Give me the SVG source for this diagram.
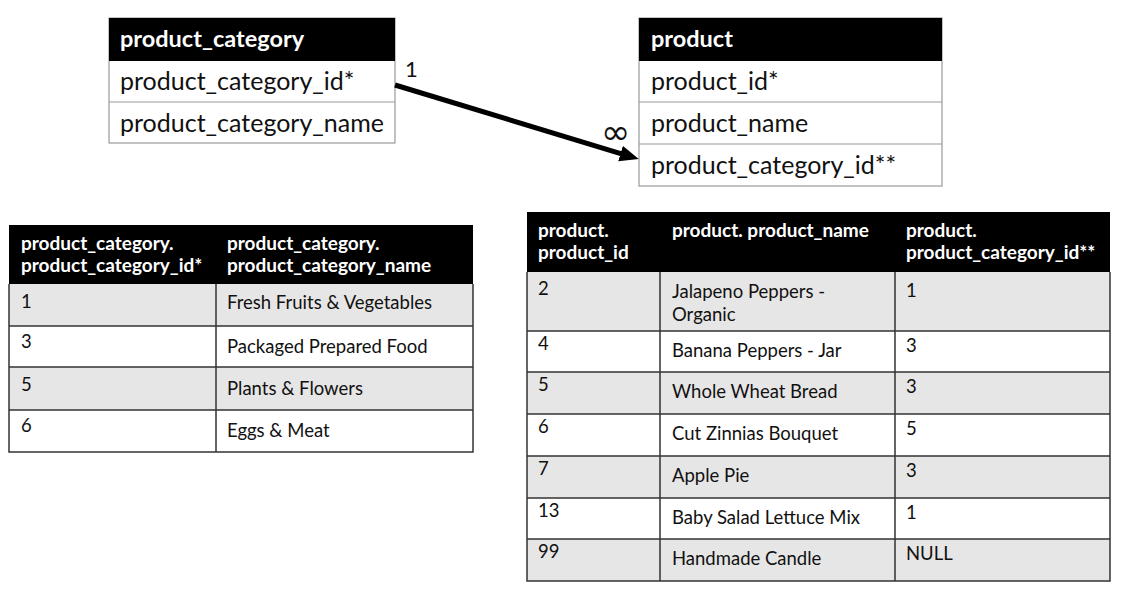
<svg xmlns="http://www.w3.org/2000/svg" width="1121" height="601" viewBox="0 0 1121 601">
<defs>
<style>
text{font-family:Lato,"Open Sans","Liberation Sans",sans-serif;fill:#111}
.er{font-size:25px}
.erh{font-size:23.5px;font-weight:bold;fill:#fff}
.hd{font-size:19px;font-weight:bold;fill:#fff}
.td{font-size:18.5px}
.hdr{fill:#000}
.erbox{fill:#fff;stroke:#9a9a9a;stroke-width:1.2}
.gray{fill:#e7e6e6}
.white{fill:#fff}
.grid{stroke:#333;stroke-width:1.5;fill:none}
.conn{stroke:#000;stroke-width:5;fill:none}
.lbl{font-size:22px}
</style>
<marker id="arr" markerUnits="userSpaceOnUse" markerWidth="22" markerHeight="20" refX="1" refY="8" orient="auto">
<path d="M0,0 L19,8 L0,16 Z" fill="#000"/>
</marker>
</defs>
<rect width="1121" height="601" fill="#fff"/>

<g id="er_product_category">
<rect class="erbox" x="109" y="18" width="286" height="125"/>
<rect class="hdr" x="109" y="18" width="286" height="43"/>
<line class="erbox" x1="109" y1="102" x2="395" y2="102"/>
<text class="erh" x="120" y="47">product_category</text>
<text class="er" x="120" y="90">product_category_id*</text>
<text class="er" x="120" y="132">product_category_name</text>
</g>

<g id="er_product">
<rect class="erbox" x="639" y="18" width="303" height="168"/>
<rect class="hdr" x="639" y="18" width="303" height="43"/>
<line class="erbox" x1="639" y1="102" x2="942" y2="102"/>
<line class="erbox" x1="639" y1="144" x2="942" y2="144"/>
<text class="erh" x="651" y="47">product</text>
<text class="er" x="651" y="90">product_id*</text>
<text class="er" x="651" y="132">product_name</text>
<text class="er" x="651" y="174">product_category_id**</text>
</g>

<g id="connectors">
<line class="conn" x1="395" y1="85" x2="621.5" y2="153.8" marker-end="url(#arr)"/>
<text class="lbl" x="405" y="77">1</text>
<text x="601" y="144" style="font-family:'DejaVu Sans',sans-serif;font-size:35px">∞</text>
</g>

<g id="table_product_category">
<rect class="hdr" x="9" y="225" width="464" height="59"/>
<rect class="gray" x="9" y="284" width="464" height="42"/>
<rect class="white" x="9" y="326" width="464" height="41"/>
<rect class="gray" x="9" y="367" width="464" height="43"/>
<rect class="white" x="9" y="410" width="464" height="42"/>
<path class="grid" d="M9,284 V452 H473 V284 M9,326 H473 M9,367 H473 M9,410 H473 M216,284 V452"/>
<text class="hd" x="21" y="250">product_category.</text>
<text class="hd" x="21" y="272">product_category_id*</text>
<text class="hd" x="227" y="250">product_category.</text>
<text class="hd" x="227" y="272">product_category_name</text>
<text class="td" x="21" y="308">1</text>
<text class="td" x="227" y="309">Fresh Fruits &amp; Vegetables</text>
<text class="td" x="21" y="348">3</text>
<text class="td" x="227" y="353">Packaged Prepared Food</text>
<text class="td" x="21" y="391">5</text>
<text class="td" x="227" y="395">Plants &amp; Flowers</text>
<text class="td" x="21" y="432">6</text>
<text class="td" x="227" y="437">Eggs &amp; Meat</text>
</g>

<g id="table_product">
<rect class="hdr" x="527" y="212" width="583" height="60"/>
<rect class="gray" x="527" y="272" width="583" height="59"/>
<rect class="white" x="527" y="331" width="583" height="41"/>
<rect class="gray" x="527" y="372" width="583" height="42"/>
<rect class="white" x="527" y="414" width="583" height="42"/>
<rect class="gray" x="527" y="456" width="583" height="42"/>
<rect class="white" x="527" y="498" width="583" height="41"/>
<rect class="gray" x="527" y="539" width="583" height="42"/>
<path class="grid" d="M527,272 V581 H1110 V272 M527,331 H1110 M527,372 H1110 M527,414 H1110 M527,456 H1110 M527,498 H1110 M527,539 H1110 M660,272 V581 M895,272 V581"/>
<text class="hd" x="538" y="237">product.</text>
<text class="hd" x="538" y="259">product_id</text>
<text class="hd" x="672" y="237">product. product_name</text>
<text class="hd" x="906" y="237">product.</text>
<text class="hd" x="906" y="259">product_category_id**</text>
<text class="td" x="538" y="295">2</text>
<text class="td" x="672" y="298">Jalapeno Peppers -</text>
<text class="td" x="672" y="321">Organic</text>
<text class="td" x="906" y="297">1</text>
<text class="td" x="538" y="350">4</text>
<text class="td" x="672" y="357">Banana Peppers - Jar</text>
<text class="td" x="906" y="352">3</text>
<text class="td" x="538" y="391">5</text>
<text class="td" x="672" y="398">Whole Wheat Bread</text>
<text class="td" x="906" y="393">3</text>
<text class="td" x="538" y="433">6</text>
<text class="td" x="672" y="440">Cut Zinnias Bouquet</text>
<text class="td" x="906" y="435">5</text>
<text class="td" x="538" y="475">7</text>
<text class="td" x="672" y="482">Apple Pie</text>
<text class="td" x="906" y="477">3</text>
<text class="td" x="538" y="517">13</text>
<text class="td" x="672" y="524">Baby Salad Lettuce Mix</text>
<text class="td" x="906" y="519">1</text>
<text class="td" x="538" y="558">99</text>
<text class="td" x="672" y="565">Handmade Candle</text>
<text class="td" x="906" y="560">NULL</text>
</g>
</svg>
